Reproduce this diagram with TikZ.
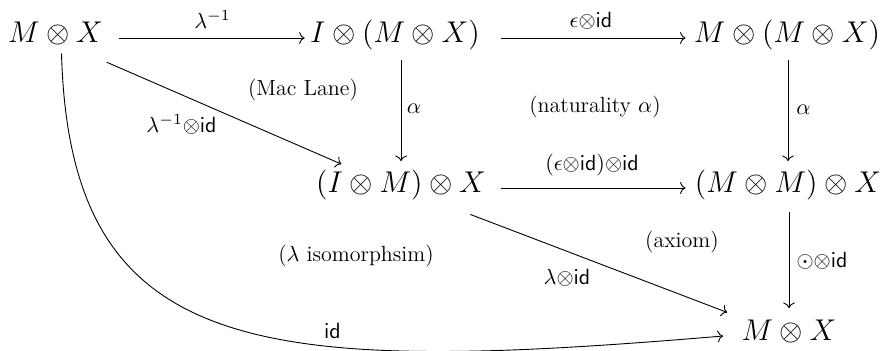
\RequirePackage{fix-cm}
\documentclass[tikz,border=0pt]{standalone}
\usetikzlibrary{cd}
\begin{document}
\begin{tikzpicture}[x=0.5pt,y=-0.5pt,
  obj/.style={inner sep=0pt, anchor=base, font=\fontsize{15}{18}\selectfont, text height=0.75em, text depth=0.25em},
  lbl/.style={font=\fontsize{11}{13}\selectfont, inner sep=0pt},
  region/.style={font=\fontsize{11}{13}\selectfont, inner sep=0pt},
  arr/.style={-{cm to}, line width=0.45pt}]
\useasboundingbox (0,0) rectangle (884,351);

% objects
\node[obj] (A) at (55.5,43) {$M\otimes X$};
\node[obj] (B) at (395,43) {$I\otimes(M\otimes X)$};
\node[obj] (C) at (787,43) {$M\otimes(M\otimes X)$};
\node[obj] (D) at (401,193) {$(I\otimes M)\otimes X$};
\node[obj] (E) at (788,193) {$(M\otimes M)\otimes X$};
\node[obj] (F) at (789,341) {$M\otimes X$};

% arrows
\draw[arr, shorten <=8pt, shorten >=2.5pt] (A) -- (B);
\draw[arr, shorten <=10.5pt, shorten >=4pt] (B) -- (C);
\draw[arr, shorten <=7.5pt, shorten >=4.5pt] (D) -- (E);
\draw[arr, shorten <=5.75pt, shorten >=8.25pt] (D.north |- B.south) -- (D.north);
\draw[arr, shorten <=5.75pt, shorten >=8.25pt] (E.north |- C.south) -- (E.north);
\draw[arr, shorten <=6.75pt, shorten >=8.75pt] (F.north |- E.south) -- (F.north);
\draw[arr, shorten <=27.9pt, shorten >=32.5pt] ([yshift=-1pt]A.center) -- ([yshift=-1pt]D.center);
\draw[arr, shorten <=22.5pt, shorten >=18.5pt] (D) -- (F);
\draw[arr] ([shift={(6,5)}]A.south) .. controls (70,360) and (260,375) .. ([xshift=-9pt]F.west);

% arrow labels
\node[lbl] (lAB) at (212.5,20) {$\lambda^{-1}$};
\node[lbl] (lBC) at (591,21) {$\epsilon{\otimes}\mathsf{id}$};
\node[lbl] (lDE) at (592,165.5) {$(\epsilon{\otimes}\mathsf{id}){\otimes}\mathsf{id}$};
\node[lbl] (lBD) at (414,109) {$\alpha$};
\node[lbl] (lCE) at (803.5,110) {$\alpha$};
\node[lbl] (lEF) at (822,260.5) {$\odot{\otimes}\mathsf{id}$};
\node[lbl] (lAD) at (181.5,124) {$\lambda^{-1}{\otimes}\mathsf{id}$};
\node[lbl] (lDF) at (567,277.5) {$\lambda{\otimes}\mathsf{id}$};
\node[lbl] (lAF) at (332.5,331) {$\mathsf{id}$};

% region labels
\node[region] (r1) at (303,90) {(Mac Lane)};
\node[region] (r2) at (595,107) {(naturality $\alpha$)};
\node[region] (r3) at (356,256) {($\lambda$ isomorphsim)};
\node[region] (r4) at (682,242) {(axiom)};
\end{tikzpicture}
\end{document}
